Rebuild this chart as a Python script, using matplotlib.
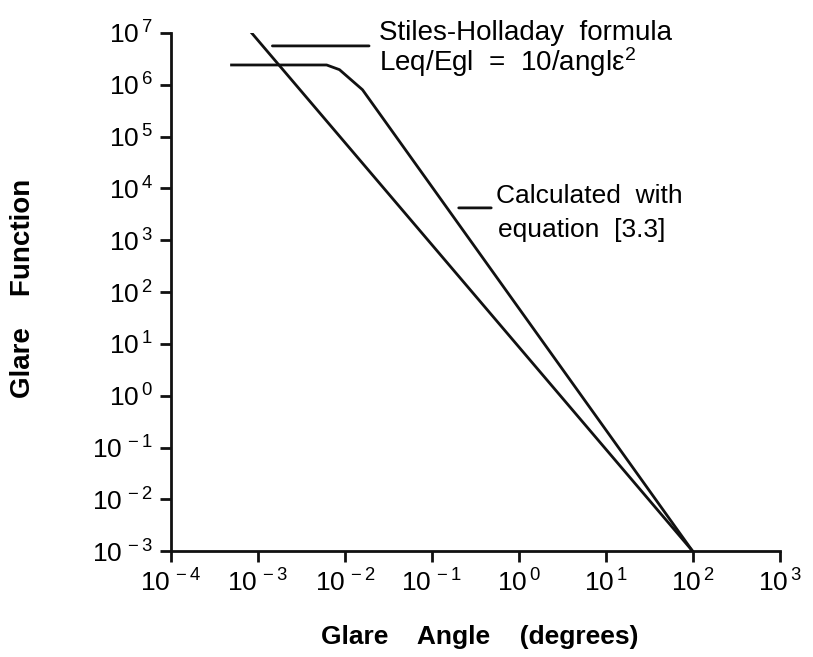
import numpy as np
import matplotlib
matplotlib.use("Agg")
import matplotlib.pyplot as plt

plt.rcParams['font.family'] = ['Liberation Sans', 'DejaVu Sans']
plt.rcParams['mathtext.fontset'] = 'custom'
plt.rcParams['mathtext.rm'] = 'Liberation Sans'
plt.rcParams['mathtext.it'] = 'Liberation Sans'

# Stiles-Holladay formula (straight line on log-log)
stiles_angle = [8.5e-4, 100.0]
stiles_glare = [1.0e7, 1.0e-3]

# calculated with equation [3.3]
calc_angle = [5.0e-4, 6.2e-3, 8.7e-3, 1.6e-2, 100.0]
calc_glare = [2.4e6, 2.4e6, 1.95e6, 8.0e5, 1.0e-3]

x_exp = [-4, -3, -2, -1, 0, 1, 2, 3]
y_exp = [-3, -2, -1, 0, 1, 2, 3, 4, 5, 6, 7]

fig = plt.figure(figsize=(8.13, 6.57), dpi=100)
ax = fig.add_axes([0.210, 0.161, 0.749, 0.789])

ax.plot(stiles_angle, stiles_glare, color='#111111', lw=2.0)
ax.plot(calc_angle, calc_glare, color='#111111', lw=2.0)

ax.set_xscale('log')
ax.set_yscale('log')
ax.set_xlim(1e-4, 1e3)
ax.set_ylim(1e-3, 1e7)

ax.set_xticks([10.0 ** e for e in x_exp])
ax.set_xticklabels([r'$\mathregular{10^{\,%d}}$' % e for e in x_exp], fontsize=19)
ax.set_yticks([10.0 ** e for e in y_exp])
ax.set_yticklabels([r'$\mathregular{10^{\,%d}}$' % e for e in y_exp], fontsize=19)
ax.minorticks_off()

for s in ['top', 'right']:
    ax.spines[s].set_visible(False)
for s in ['left', 'bottom']:
    ax.spines[s].set_linewidth(2.0)
    ax.spines[s].set_color('#111111')
ax.tick_params(axis='both', direction='out', length=8, width=2, color='#111111', pad=5)

# leader lines and annotations
ax.annotate('', xy=(1.37e-3, 5.6e6), xytext=(2.05e-2, 5.6e6),
            arrowprops=dict(arrowstyle='-', color='#111111', lw=2))
ax.text(2.5e-2, 1.0e7, 'Stiles-Holladay  formula', fontsize=20, va='center', ha='left')
ax.text(2.5e-2, 2.7e6, r'Leq/Egl  =  10/angl$\epsilon^{\mathregular{2}}$', fontsize=20,
        va='center', ha='left')

ax.annotate('', xy=(0.19, 4.2e3), xytext=(0.52, 4.2e3),
            arrowprops=dict(arrowstyle='-', color='#111111', lw=2))
ax.text(0.55, 7.0e3, 'Calculated  with', fontsize=19, va='center', ha='left')
ax.text(0.58, 1.6e3, 'equation  [3.3]', fontsize=19, va='center', ha='left')

ax.set_xlabel('Glare    Angle    (degrees)', fontsize=19, fontweight='bold')
ax.xaxis.set_label_coords(0.508, -0.143)
ax.set_ylabel('Glare    Function', fontsize=20, fontweight='bold')
ax.yaxis.set_label_coords(-0.222, 0.508)

fig.savefig('out.png', dpi=100)
